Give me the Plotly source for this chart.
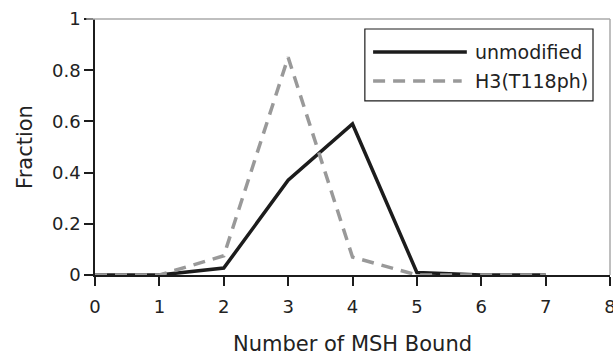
import plotly.graph_objects as go

msh_bound = [0, 1, 2, 3, 4, 5, 6, 7]
unmodified = [0.0, 0.0, 0.027, 0.37, 0.59, 0.01, 0.0, 0.0]
h3_t118ph = [0.0, 0.0, 0.075, 0.85, 0.07, 0.0, 0.0, 0.0]
series_names = ["unmodified", "H3(T118ph)"]
x_ticks = [0, 1, 2, 3, 4, 5, 6, 7, 8]
y_ticks = [0, 0.2, 0.4, 0.6, 0.8, 1]
y_ticklabels = ["0", "0.2", "0.4", "0.6", "0.8", "1"]

BLACK = "#1c1c1c"
GRAY = "#999999"
FONT = "DejaVu Sans"

fig = go.Figure()
fig.add_trace(go.Scatter(x=msh_bound, y=unmodified, mode="lines", name=series_names[0],
                         line=dict(color=BLACK, width=3.5), showlegend=False))
fig.add_trace(go.Scatter(x=msh_bound, y=h3_t118ph, mode="lines", name=series_names[1],
                         line=dict(color=GRAY, width=3.5, dash="12px,8px"), showlegend=False))

fig.update_layout(
    width=613, height=356,
    margin=dict(l=95, r=3, t=19, b=81),
    paper_bgcolor="white", plot_bgcolor="white",
    font=dict(family=FONT, color="#222222", size=18),
    xaxis=dict(range=[0, 8], tickvals=x_ticks, ticks="outside", ticklen=9, tickcolor=BLACK,
               tickwidth=1.5, showline=True, linecolor=BLACK, linewidth=1.5, showgrid=False,
               zeroline=False, tickfont=dict(size=18), automargin=False, ticklabeloverflow="allow",
               ticklabelstandoff=6,
               title=dict(text="Number of MSH Bound", font=dict(size=21), standoff=23)),
    yaxis=dict(range=[0, 1], tickvals=y_ticks, ticktext=y_ticklabels, ticks="outside", ticklen=9,
               tickcolor=BLACK, tickwidth=1.5, showline=True, linecolor=BLACK, linewidth=1.5,
               showgrid=False, zeroline=False, tickfont=dict(size=18), automargin=False,
               ticklabeloverflow="allow",
               title=dict(text="Fraction", font=dict(size=21), standoff=14)),
    showlegend=False,
)

# gray frame on top and right
fig.add_shape(type="line", xref="paper", yref="paper", x0=-0.017, x1=1, y0=1, y1=1,
              line=dict(color="#aaaaaa", width=1.5))
fig.add_shape(type="line", xref="paper", yref="paper", x0=1, x1=1, y0=0, y1=1,
              line=dict(color="#aaaaaa", width=1.5))

# manual legend
fig.add_shape(type="rect", xref="paper", yref="paper", x0=0.524, x1=0.967, y0=0.680, y1=0.961,
              line=dict(color=BLACK, width=1.2), fillcolor="white")
fig.add_shape(type="line", xref="paper", yref="paper", x0=0.540, x1=0.722, y0=0.871, y1=0.871,
              line=dict(color=BLACK, width=3.5))
fig.add_shape(type="line", xref="paper", yref="paper", x0=0.540, x1=0.712, y0=0.758, y1=0.758,
              line=dict(color=GRAY, width=3.5, dash="12px,8px"))
fig.add_annotation(xref="paper", yref="paper", x=0.734, y=0.871, text=series_names[0],
                   showarrow=False, xanchor="left", yanchor="middle", font=dict(size=19))
fig.add_annotation(xref="paper", yref="paper", x=0.734, y=0.758, text=series_names[1],
                   showarrow=False, xanchor="left", yanchor="middle", font=dict(size=19))

fig.write_html("out.html", config={"displayModeBar": False},
               post_script="document.body.style.margin='0';")
